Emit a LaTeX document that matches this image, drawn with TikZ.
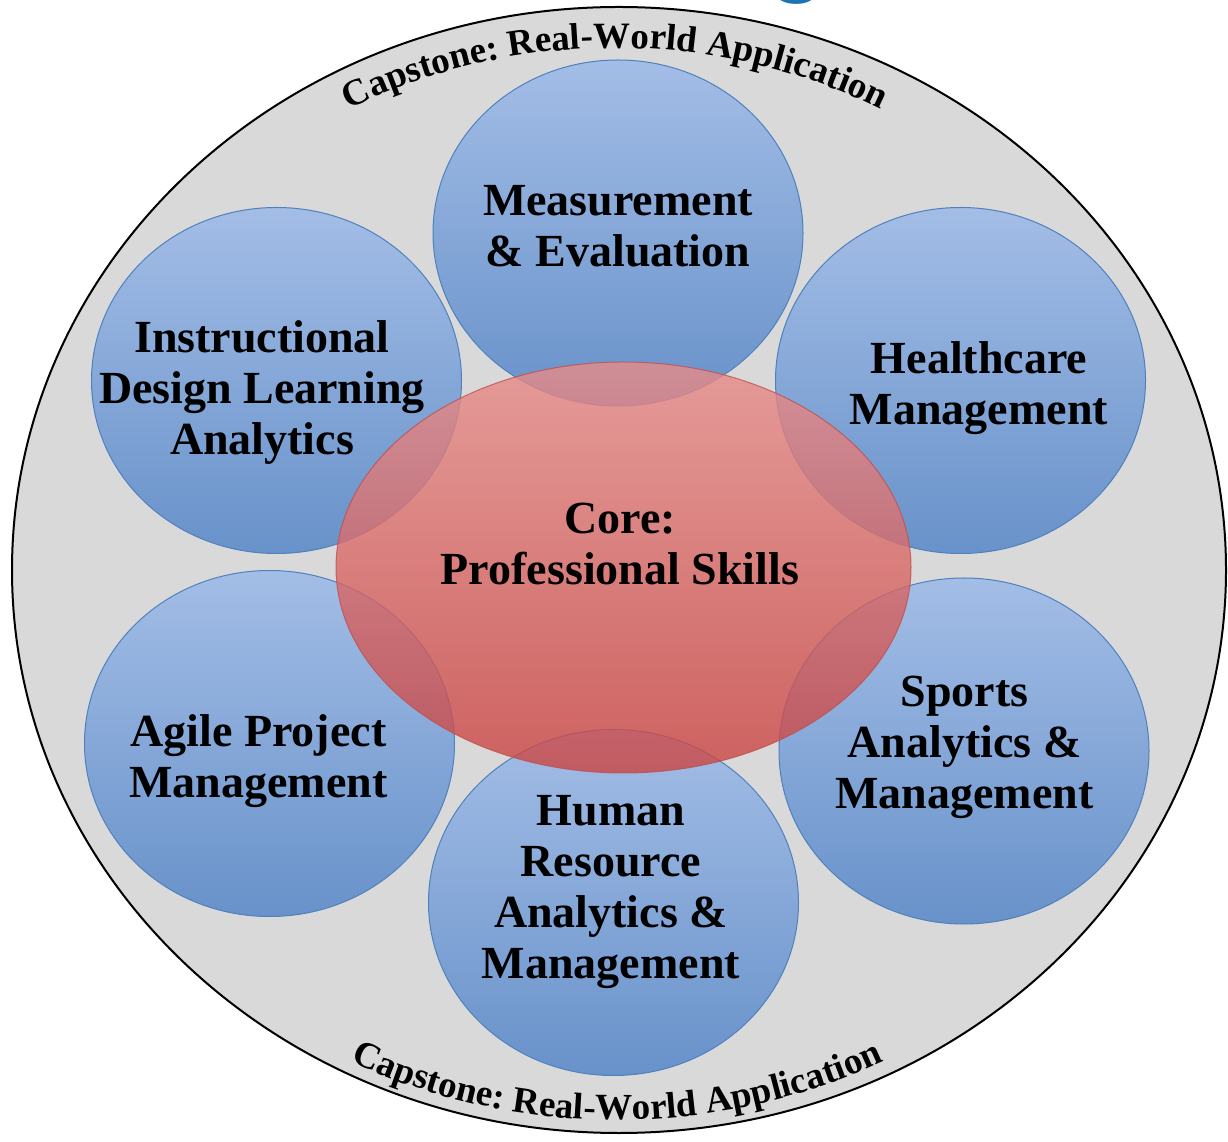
\documentclass[tikz,border=0pt]{standalone}
\usepackage{fontspec}
\setmainfont{Liberation Serif}
\newfontfamily\titlefont{Carlito}
\usetikzlibrary{shapes.geometric,decorations.text}
\definecolor{greyfill}{RGB}{217,217,217}
\definecolor{bluetop}{RGB}{163,189,230}
\definecolor{bluebot}{RGB}{104,146,202}
\definecolor{blueedge}{RGB}{79,129,189}
\definecolor{redtop}{RGB}{232,140,137}
\definecolor{redbot}{RGB}{202,68,66}
\definecolor{rededge}{RGB}{192,80,77}
\definecolor{titleblue}{RGB}{31,115,178}
\begin{document}
\begin{tikzpicture}[x=1pt,y=1pt,
  outer/.style={ellipse, draw=black, line width=2pt, fill=greyfill, minimum width=1214pt, minimum height=1126pt, inner sep=0pt},
  topic/.style={ellipse, draw=blueedge, line width=1pt, top color=bluetop, bottom color=bluebot, minimum width=370pt, minimum height=346pt, inner sep=0pt},
  core/.style={ellipse, draw=rededge, line width=1pt, top color=redtop, bottom color=redbot, opacity=0.8, minimum width=575pt, minimum height=411pt, inner sep=0pt},
  lbl/.style={font=\bfseries\fontsize{46}{51}\selectfont, align=center, inner sep=0pt, text=black},
  arctext/.style={decorate, decoration={text along path, text align=center, text={|\bfseries\fontsize{37}{37}\selectfont|Capstone: Real-World Application}}}
]
\useasboundingbox (0,0) rectangle (1228,1141);
\fill[white] (0,0) rectangle (1228,1141);
\node[outer] (cap) at (619,571) {};
\node[topic] (meas) at (618,908) {};
\node[topic] (inst) at (276.5,760.5) {};
\node[topic] (health) at (960.5,760.5) {};
\node[topic] (agile) at (269.5,397.5) {};
\node[topic] (sports) at (964,390) {};
\node[topic] (hr) at (613.5,238.5) {};
\node[core] (coreell) at (623.5,573.5) {};
\node[lbl] (measT) at (618,915) {Measurement\\\& Evaluation};
\node[lbl] (instT) at (262,748) {Instructional\\Design Learning\\Analytics};
\node[lbl] (healthT) at (979,752.5) {Healthcare\\Management};
\node[lbl] (coreT) at (620,597) {Core:\\Professional Skills};
\node[lbl] (agileT) at (258.5,379.5) {Agile Project\\Management};
\node[lbl] (sportsT) at (964.5,393.5) {Sports\\Analytics \&\\Management};
\node[lbl] (hrT) at (611,248.5) {Human\\Resource\\Analytics \&\\Management};
\path[arctext] (615,571) ++(150:566 and 522) arc[start angle=150, end angle=30, x radius=566, y radius=522];
\path[arctext] (617,571) ++(210:594 and 550) arc[start angle=210, end angle=330, x radius=594, y radius=550];
\node[anchor=base, text=titleblue, font=\titlefont\fontsize{110}{110}\selectfont, inner sep=0pt] (title) at (797,1155) {g};
\end{tikzpicture}
\end{document}
